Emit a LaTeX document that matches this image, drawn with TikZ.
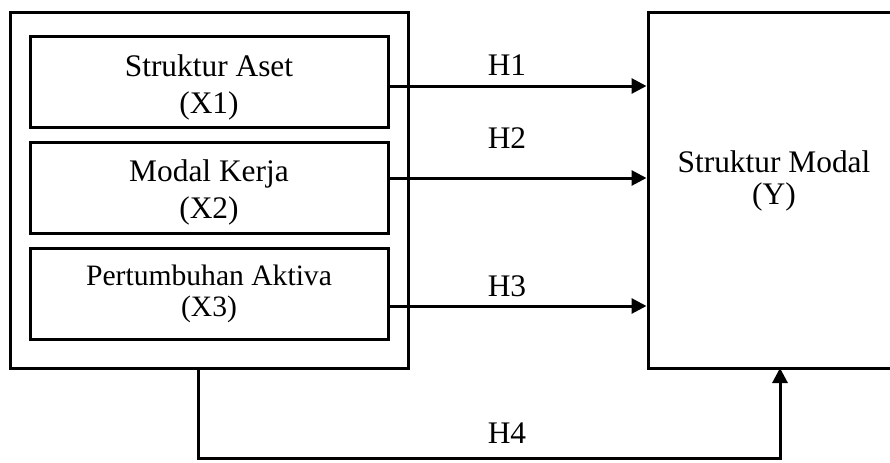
\documentclass[tikz,border=0pt]{standalone}
\usepackage{fontspec}
\setmainfont{Liberation Serif}
\usetikzlibrary{arrows.meta}
\begin{document}
\begin{tikzpicture}[x=0.5pt,y=-0.5pt,
    box/.style={draw, line width=1.5pt, inner sep=0pt},
    lbl/.style={font=\fontsize{15.7}{18.5}\selectfont, align=center, anchor=base, inner sep=0pt},
    arr/.style={line width=1.5pt, -{Triangle[length=7.5pt,width=7.5pt]}}]
        \useasboundingbox (0,0) rectangle (890,462);
        \clip (0,0) rectangle (890,462);

        \node[box, minimum width=199pt, minimum height=178pt] at (209,190) (G) {};
        \node[box, minimum width=179pt, minimum height=45.5pt] at (209,81.5) (X1) {};
        \node[box, minimum width=179pt, minimum height=45.5pt] at (209,187.5) (X2) {};
        \node[box, minimum width=179pt, minimum height=45.5pt] at (209,293.5) (X3) {};
        \node[box, minimum width=126pt, minimum height=178pt] at (774,190) (Y) {};

        \node[lbl] at (209,113) (T1) {Struktur Aset\\(X1)};
        \node[lbl] at (209,218) (T2) {Modal Kerja\\(X2)};
        \node[lbl, font=\fontsize{14.8}{15.5}\selectfont] at (209,316.5) (T3) {Pertumbuhan Aktiva\\(X3)};
        \node[lbl, font=\fontsize{15.7}{16}\selectfont] at (774,204) (TY) {Struktur Modal\\(Y)};

        \node[lbl] at (507,75) (H1) {H1};
        \node[lbl] at (507,148) (H2) {H2};
        \node[lbl] at (507,296) (H3) {H3};
        \node[lbl] at (507,443) (H4) {H4};

        \coordinate (P1) at (198,368);
        \coordinate (P2) at (198,458);
        \coordinate (P3) at (780,458);
        \coordinate (P4) at (780,368);

        \draw[arr] ([yshift=-2.25pt]X1.east) -- ([yshift=-2.25pt]X1.east -| Y.west);
        \draw[arr] ([yshift=4.75pt]X2.east) -- ([yshift=4.75pt]X2.east -| Y.west);
        \draw[arr] ([yshift=-6.25pt]X3.east) -- ([yshift=-6.25pt]X3.east -| Y.west);
        \draw[arr] (P1) -- (P2) -- (P3) -- (P4);
      \end{tikzpicture}
\end{document}
